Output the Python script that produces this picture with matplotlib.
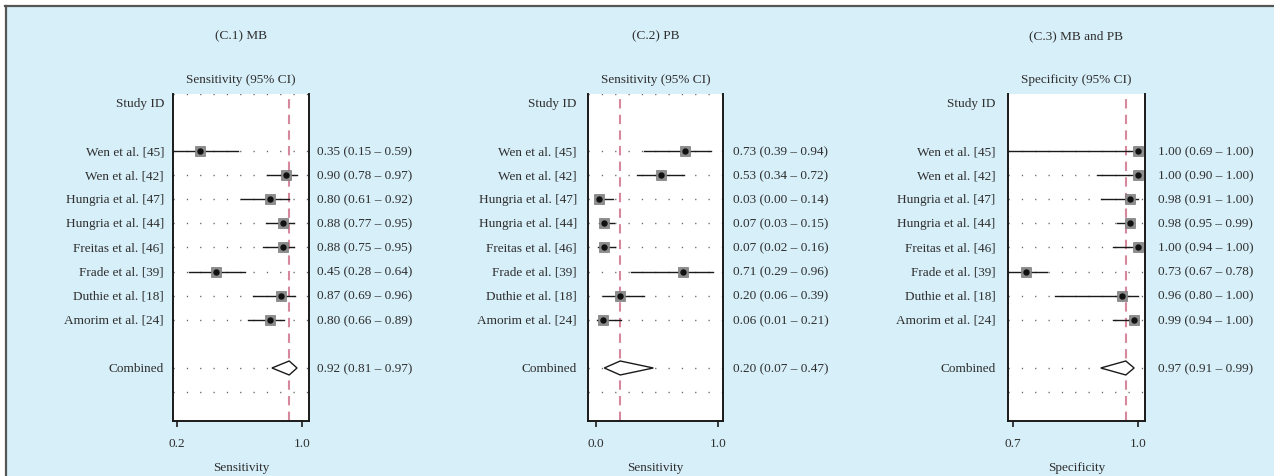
import matplotlib
matplotlib.use("Agg")
import matplotlib.pyplot as plt
from matplotlib.patches import Rectangle, Polygon
from matplotlib.lines import Line2D

# ---------------- data ----------------
studies = ["Wen et al. [45]", "Wen et al. [42]", "Hungria et al. [47]", "Hungria et al. [44]",
           "Freitas et al. [46]", "Frade et al. [39]", "Duthie et al. [18]", "Amorim et al. [24]"]

mb_est = [0.35, 0.90, 0.80, 0.88, 0.88, 0.45, 0.87, 0.80]
mb_lo = [0.15, 0.78, 0.61, 0.77, 0.75, 0.28, 0.69, 0.66]
mb_hi = [0.59, 0.97, 0.92, 0.95, 0.95, 0.64, 0.96, 0.89]
mb_combined = [0.92, 0.81, 0.97]

pb_est = [0.73, 0.53, 0.03, 0.07, 0.07, 0.71, 0.20, 0.06]
pb_lo = [0.39, 0.34, 0.00, 0.03, 0.02, 0.29, 0.06, 0.01]
pb_hi = [0.94, 0.72, 0.14, 0.15, 0.16, 0.96, 0.39, 0.21]
pb_combined = [0.20, 0.07, 0.47]

spec_est = [1.00, 1.00, 0.98, 0.98, 1.00, 0.73, 0.96, 0.99]
spec_lo = [0.69, 0.90, 0.91, 0.95, 0.94, 0.67, 0.80, 0.94]
spec_hi = [1.00, 1.00, 1.00, 0.99, 1.00, 0.78, 1.00, 1.00]
spec_combined = [0.97, 0.91, 0.99]

panel_titles = ["(C.1) MB", "(C.2) PB", "(C.3) MB and PB"]
panel_headers = ["Sensitivity (95% CI)", "Sensitivity (95% CI)", "Specificity (95% CI)"]
panel_xlabels = ["Sensitivity", "Sensitivity", "Specificity"]
panel_ticks = [[0.2, 1.0], [0.0, 1.0], [0.7, 1.0]]
panel_ticklabels = [["0.2", "1.0"], ["0.0", "1.0"], ["0.7", "1.0"]]

# ---------------- layout ----------------
W, H = 1274, 477
fig = plt.figure(figsize=(W / 100, H / 100), dpi=100, facecolor="white")

plt.rcParams["font.family"] = ["Liberation Serif", "DejaVu Serif"]
FS = 9.5
TXT = "#2e2e2e"
BG = "#d7eff9"

# background panel with top/left border
bg = Rectangle((5.5 / W, 0), 1 - 5.5 / W, 1 - 6.5 / H, transform=fig.transFigure,
               facecolor=BG, edgecolor="none", zorder=-10)
fig.patches.append(bg)
fig.lines.append(Line2D([5 / W, 1], [1 - 6.5 / H, 1 - 6.5 / H], transform=fig.transFigure,
                        color="#555555", lw=1.6, zorder=-5))
fig.lines.append(Line2D([5.5 / W, 5.5 / W], [0, 1 - 6.5 / H], transform=fig.transFigure,
                        color="#555555", lw=1.6, zorder=-5))

ax_px = [(173, 309), (588.3, 723.3), (1007.7, 1145)]
xlims = [(0.1776, 1.0466), (-0.0604, 1.0408), (0.6866, 1.0161)]
top_px, bot_px = 95, 422
name_gap = [9, 11.5, 12]
val_gap = [8, 9.5, 12.5]

datasets = [(mb_est, mb_lo, mb_hi, mb_combined),
            (pb_est, pb_lo, pb_hi, pb_combined),
            (spec_est, spec_lo, spec_hi, spec_combined)]

ytop, ybot = -2.37, 11.2
rows = list(range(len(studies)))
comb_row = 9
extra_row = 10
dot_style = dict(color="#666666", lw=1.0, linestyle=(0, (0.9, 8.7)), zorder=1)

for i, (est, lo, hi, comb) in enumerate(datasets):
    l, r = ax_px[i]
    ax = fig.add_axes([l / W, 1 - bot_px / H, (r - l) / W, (bot_px - top_px) / H])
    ax.set_facecolor("white")
    ax.set_xlim(*xlims[i])
    ax.set_ylim(ybot, ytop)
    for s in ["left", "right", "bottom"]:
        ax.spines[s].set_linewidth(1.4)
        ax.spines[s].set_color("#1a1a1a")
    ax.spines["top"].set_visible(False)
    ax.set_yticks([])
    ax.set_xticks(panel_ticks[i])
    ax.set_xticklabels(panel_ticklabels[i], fontsize=FS, color=TXT)
    ax.tick_params(axis="x", direction="out", length=4.5, width=1.2, pad=7, color="#1a1a1a")

    # dotted guide rows
    for y in rows + [comb_row, extra_row]:
        ax.axhline(y, **dot_style)
    if i < 2:
        ax.axhline(ytop, **dot_style)

    # reference line at combined estimate
    ax.axvline(comb[0], color="#d6899c", lw=1.5, linestyle=(0, (4.5, 3.0)), zorder=2)

    # CIs and markers
    for k in rows:
        ax.plot([lo[k], hi[k]], [k, k], color="#1a1a1a", lw=1.0, zorder=3)
        ax.plot(est[k], k, marker="s", ms=7.0, color="#8c8c8c", mec="#7a7a7a", mew=0.5, zorder=4)
        ax.plot(est[k], k, marker="o", ms=3.6, color="#111111", zorder=5)

    # combined diamond
    e, cl, ch = comb
    dh = 0.29
    ax.add_patch(Polygon([(cl, comb_row), (e, comb_row - dh), (ch, comb_row), (e, comb_row + dh)],
                         closed=True, facecolor="white", edgecolor="#1a1a1a", lw=1.0, zorder=4))

    # left-side labels
    def left_text(y, s):
        ax.annotate(s, xy=(0, y), xycoords=("axes fraction", "data"),
                    xytext=(-name_gap[i] * 0.72, 0), textcoords="offset points",
                    ha="right", va="center", fontsize=FS, color=TXT, annotation_clip=False)

    def right_text(y, s):
        ax.annotate(s, xy=(1, y), xycoords=("axes fraction", "data"),
                    xytext=(val_gap[i] * 0.72, 0), textcoords="offset points",
                    ha="left", va="center", fontsize=FS, color=TXT, annotation_clip=False)

    left_text(-2, "Study ID")
    for k in rows:
        left_text(k, studies[k])
        right_text(k, f"{est[k]:.2f} ({lo[k]:.2f} \u2013 {hi[k]:.2f})")
    left_text(comb_row, "Combined")
    right_text(comb_row, f"{e:.2f} ({cl:.2f} \u2013 {ch:.2f})")

    # header, title, xlabel
    ax.annotate(panel_headers[i], xy=(0.5, -3.0), xycoords=("axes fraction", "data"),
                ha="center", va="center", fontsize=FS, color=TXT, annotation_clip=False)
    ax.annotate(panel_titles[i], xy=(0.5, -4.81), xycoords=("axes fraction", "data"),
                ha="center", va="center", fontsize=FS, color=TXT, annotation_clip=False)
    ax.annotate(panel_xlabels[i], xy=(0.5, 0), xycoords="axes fraction",
                xytext=(0, -46 * 0.72), textcoords="offset points",
                ha="center", va="center", fontsize=FS, color=TXT, annotation_clip=False)

fig.savefig("out.png", dpi=100, facecolor=fig.get_facecolor())
